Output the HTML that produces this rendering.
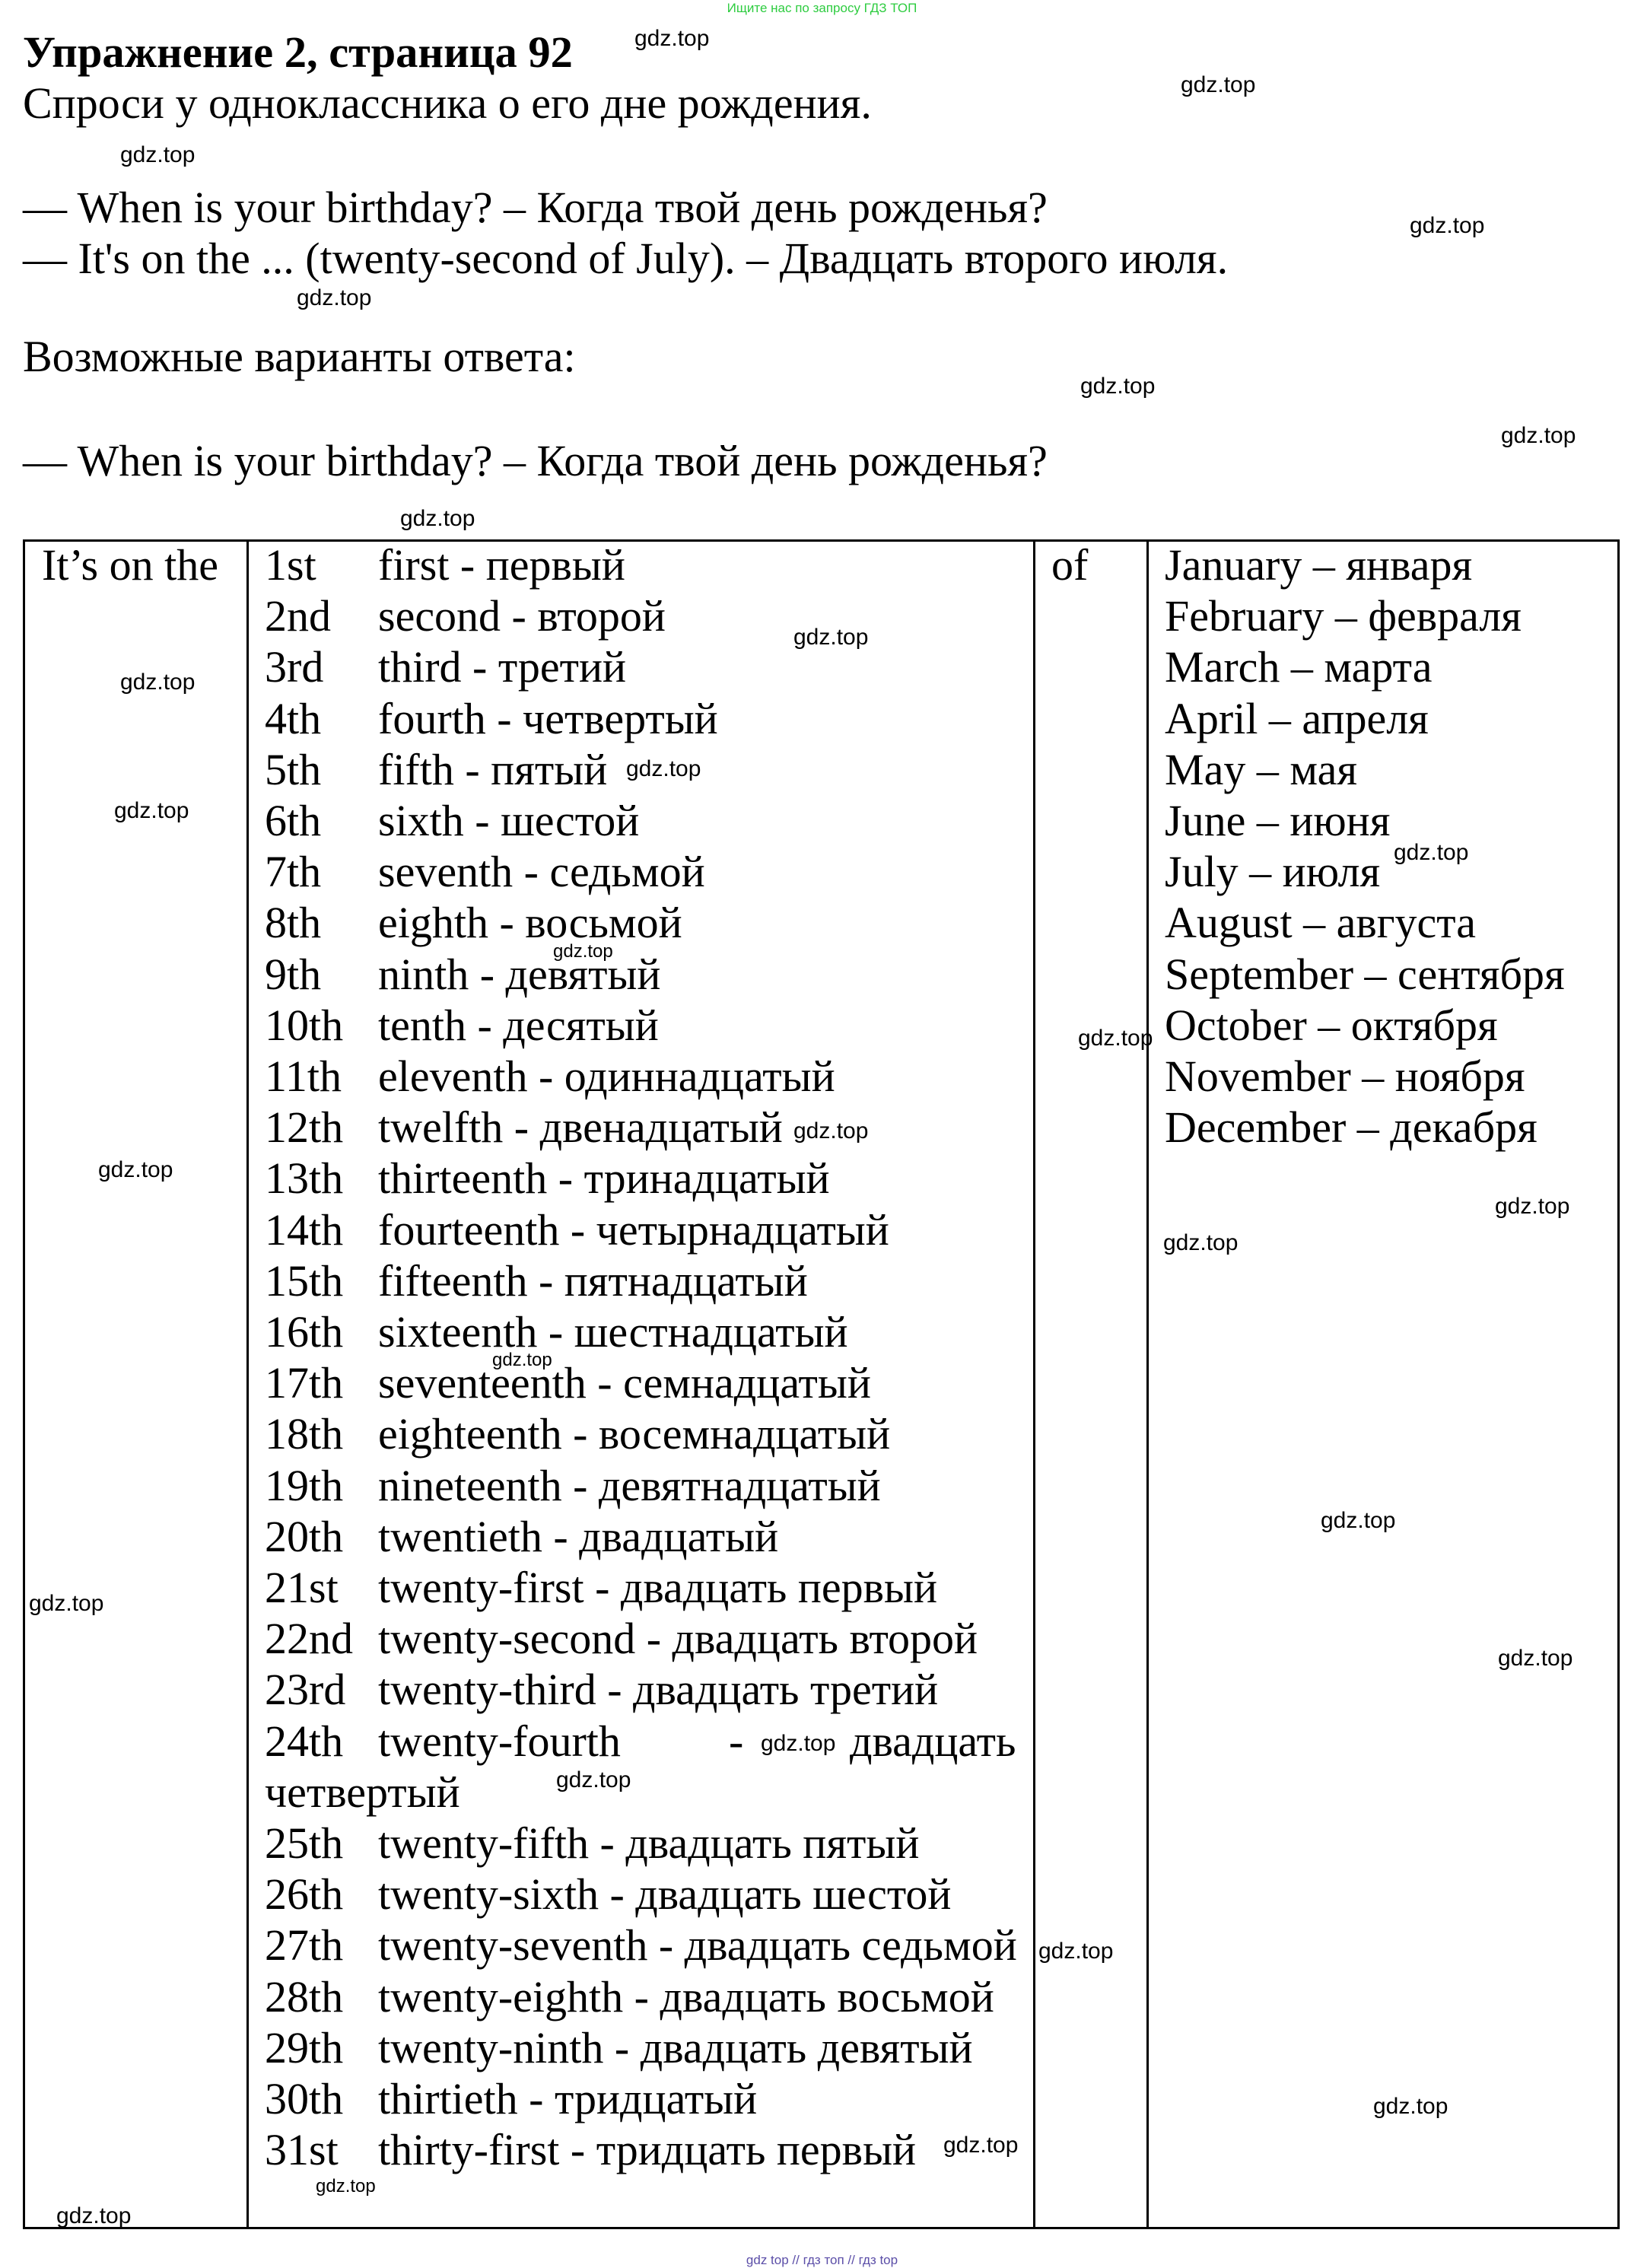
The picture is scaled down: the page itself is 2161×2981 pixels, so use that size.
<!DOCTYPE html>
<html><head><meta charset="utf-8"><style>
html,body{margin:0;padding:0;background:#fff}
body{width:2161px;height:2981px;position:relative;overflow:hidden;font-family:"Liberation Serif","DejaVu Serif",serif;color:#000}
.t{position:absolute;font-size:58px;line-height:1;white-space:nowrap}
.b{font-weight:bold}
.w{position:absolute;font-family:"Liberation Sans","DejaVu Sans",sans-serif;font-size:30px;line-height:1;white-space:nowrap}
.s{font-size:24px}
.v{position:absolute;background:#000;width:3px}
.h{position:absolute;background:#000;height:3px}
</style></head><body>
<div class="w" style="left:0;width:2161px;text-align:center;top:2px;font-size:17px;color:#2ecc40">Ищите нас по запросу ГДЗ ТОП</div>
<div class="t b" style="left:30px;top:40px;font-size:58.5px">Упражнение 2, страница 92</div>
<div class="t" style="left:30px;top:107px">Спроси у одноклассника о его дне рождения.</div>
<div class="t" style="left:30px;top:244px">— When is your birthday? – Когда твой день рожденья?</div>
<div class="t" style="left:30px;top:311px">— It's on the ... (twenty-second of July). – Двадцать второго июля.</div>
<div class="t" style="left:30px;top:440px">Возможные варианты ответа:</div>
<div class="t" style="left:30px;top:577px">— When is your birthday? – Когда твой день рожденья?</div>

<div class="h" style="left:30px;top:709px;width:2099px"></div>
<div class="h" style="left:30px;top:2927px;width:2099px"></div>
<div class="v" style="left:30px;top:709px;height:2221px"></div>
<div class="v" style="left:324px;top:709px;height:2221px"></div>
<div class="v" style="left:1358px;top:709px;height:2221px"></div>
<div class="v" style="left:1507px;top:709px;height:2221px"></div>
<div class="v" style="left:2126px;top:709px;height:2221px"></div>

<div class="t" style="left:55px;top:714px">It’s on the</div>
<div class="t" style="left:1382px;top:714px">of</div>

<div class="t" style="left:348px;top:714px">1st</div><div class="t" style="left:497px;top:714px">first - первый</div>
<div class="t" style="left:348px;top:781px">2nd</div><div class="t" style="left:497px;top:781px">second - второй</div>
<div class="t" style="left:348px;top:848px">3rd</div><div class="t" style="left:497px;top:848px">third - третий</div>
<div class="t" style="left:348px;top:916px">4th</div><div class="t" style="left:497px;top:916px">fourth - четвертый</div>
<div class="t" style="left:348px;top:983px">5th</div><div class="t" style="left:497px;top:983px">fifth - пятый</div>
<div class="t" style="left:348px;top:1050px">6th</div><div class="t" style="left:497px;top:1050px">sixth - шестой</div>
<div class="t" style="left:348px;top:1117px">7th</div><div class="t" style="left:497px;top:1117px">seventh - седьмой</div>
<div class="t" style="left:348px;top:1184px">8th</div><div class="t" style="left:497px;top:1184px">eighth - восьмой</div>
<div class="t" style="left:348px;top:1252px">9th</div><div class="t" style="left:497px;top:1252px">ninth - девятый</div>
<div class="t" style="left:348px;top:1319px">10th</div><div class="t" style="left:497px;top:1319px">tenth - десятый</div>
<div class="t" style="left:348px;top:1386px">11th</div><div class="t" style="left:497px;top:1386px">eleventh - одиннадцатый</div>
<div class="t" style="left:348px;top:1453px">12th</div><div class="t" style="left:497px;top:1453px">twelfth - двенадцатый</div>
<div class="t" style="left:348px;top:1520px">13th</div><div class="t" style="left:497px;top:1520px">thirteenth - тринадцатый</div>
<div class="t" style="left:348px;top:1588px">14th</div><div class="t" style="left:497px;top:1588px">fourteenth - четырнадцатый</div>
<div class="t" style="left:348px;top:1655px">15th</div><div class="t" style="left:497px;top:1655px">fifteenth - пятнадцатый</div>
<div class="t" style="left:348px;top:1722px">16th</div><div class="t" style="left:497px;top:1722px">sixteenth - шестнадцатый</div>
<div class="t" style="left:348px;top:1789px">17th</div><div class="t" style="left:497px;top:1789px">seventeenth - семнадцатый</div>
<div class="t" style="left:348px;top:1856px">18th</div><div class="t" style="left:497px;top:1856px">eighteenth - восемнадцатый</div>
<div class="t" style="left:348px;top:1924px">19th</div><div class="t" style="left:497px;top:1924px">nineteenth - девятнадцатый</div>
<div class="t" style="left:348px;top:1991px">20th</div><div class="t" style="left:497px;top:1991px">twentieth - двадцатый</div>
<div class="t" style="left:348px;top:2058px">21st</div><div class="t" style="left:497px;top:2058px">twenty-first - двадцать первый</div>
<div class="t" style="left:348px;top:2125px">22nd</div><div class="t" style="left:497px;top:2125px">twenty-second - двадцать второй</div>
<div class="t" style="left:348px;top:2192px">23rd</div><div class="t" style="left:497px;top:2192px">twenty-third - двадцать третий</div>
<div class="t" style="left:348px;top:2260px">24th</div><div class="t" style="left:497px;top:2260px">twenty-fourth</div>
<div class="t" style="left:958px;top:2260px">-</div><div class="t" style="left:1117px;top:2260px">двадцать</div>
<div class="t" style="left:348px;top:2327px">четвертый</div>
<div class="t" style="left:348px;top:2394px">25th</div><div class="t" style="left:497px;top:2394px">twenty-fifth - двадцать пятый</div>
<div class="t" style="left:348px;top:2461px">26th</div><div class="t" style="left:497px;top:2461px">twenty-sixth - двадцать шестой</div>
<div class="t" style="left:348px;top:2528px">27th</div><div class="t" style="left:497px;top:2528px">twenty-seventh - двадцать седьмой</div>
<div class="t" style="left:348px;top:2596px">28th</div><div class="t" style="left:497px;top:2596px">twenty-eighth - двадцать восьмой</div>
<div class="t" style="left:348px;top:2663px">29th</div><div class="t" style="left:497px;top:2663px">twenty-ninth - двадцать девятый</div>
<div class="t" style="left:348px;top:2730px">30th</div><div class="t" style="left:497px;top:2730px">thirtieth - тридцатый</div>
<div class="t" style="left:348px;top:2797px">31st</div><div class="t" style="left:497px;top:2797px">thirty-first - тридцать первый</div>

<div class="t" style="left:1531px;top:714px">January – января</div>
<div class="t" style="left:1531px;top:781px">February – февраля</div>
<div class="t" style="left:1531px;top:848px">March – марта</div>
<div class="t" style="left:1531px;top:916px">April – апреля</div>
<div class="t" style="left:1531px;top:983px">May – мая</div>
<div class="t" style="left:1531px;top:1050px">June – июня</div>
<div class="t" style="left:1531px;top:1117px">July – июля</div>
<div class="t" style="left:1531px;top:1184px">August – августа</div>
<div class="t" style="left:1531px;top:1252px">September – сентября</div>
<div class="t" style="left:1531px;top:1319px">October – октября</div>
<div class="t" style="left:1531px;top:1386px">November – ноября</div>
<div class="t" style="left:1531px;top:1453px">December – декабря</div>

<div class="w" style="left:834px;top:36px">gdz.top</div>
<div class="w" style="left:1552px;top:97px">gdz.top</div>
<div class="w" style="left:158px;top:189px">gdz.top</div>
<div class="w" style="left:1853px;top:282px">gdz.top</div>
<div class="w" style="left:390px;top:377px">gdz.top</div>
<div class="w" style="left:1420px;top:493px">gdz.top</div>
<div class="w" style="left:1973px;top:558px">gdz.top</div>
<div class="w" style="left:526px;top:667px">gdz.top</div>
<div class="w" style="left:1043px;top:823px">gdz.top</div>
<div class="w" style="left:158px;top:882px">gdz.top</div>
<div class="w" style="left:823px;top:996px">gdz.top</div>
<div class="w" style="left:150px;top:1051px">gdz.top</div>
<div class="w" style="left:1832px;top:1106px">gdz.top</div>
<div class="w s" style="left:727px;top:1239px">gdz.top</div>
<div class="w" style="left:1417px;top:1350px">gdz.top</div>
<div class="w" style="left:1043px;top:1472px">gdz.top</div>
<div class="w" style="left:129px;top:1523px">gdz.top</div>
<div class="w" style="left:1965px;top:1571px">gdz.top</div>
<div class="w" style="left:1529px;top:1619px">gdz.top</div>
<div class="w s" style="left:647px;top:1776px">gdz.top</div>
<div class="w" style="left:1736px;top:1984px">gdz.top</div>
<div class="w" style="left:38px;top:2093px">gdz.top</div>
<div class="w" style="left:1969px;top:2165px">gdz.top</div>
<div class="w" style="left:1000px;top:2277px">gdz.top</div>
<div class="w" style="left:731px;top:2325px">gdz.top</div>
<div class="w" style="left:1365px;top:2550px">gdz.top</div>
<div class="w" style="left:1805px;top:2754px">gdz.top</div>
<div class="w" style="left:1240px;top:2805px">gdz.top</div>
<div class="w s" style="left:415px;top:2862px">gdz.top</div>
<div class="w" style="left:74px;top:2898px">gdz.top</div>
<div class="w" style="left:0;width:2161px;text-align:center;top:2962px;font-size:17px;color:#5b4ea8">gdz top // гдз топ // гдз top</div>
</body></html>
